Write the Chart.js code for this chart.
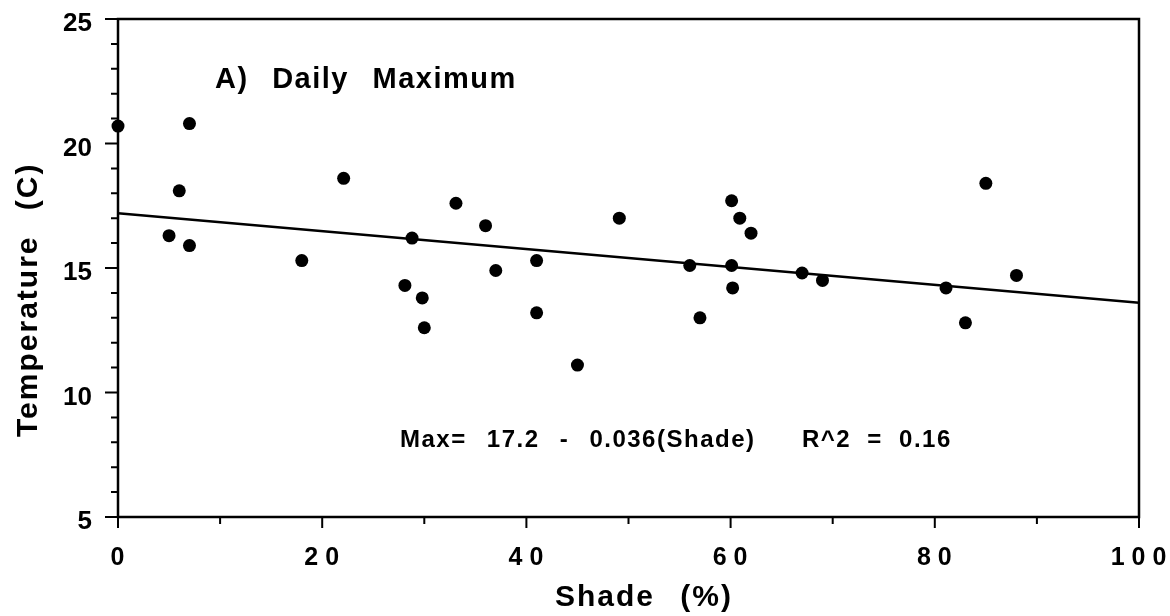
<!DOCTYPE html>
<html>
<head>
<meta charset="utf-8">
<script src="https://cdn.jsdelivr.net/npm/chart.js@4"></script>
<style>
    html, body { margin: 0; padding: 0; background: #fff; }
</style>
</head>
<body>
<canvas id="chart" width="1170" height="616"></canvas>
<script>
// Shade (%) and daily maximum temperature (C)
const shade = [0, 5, 6, 7, 7, 18, 22.1, 28.1, 28.8, 29.8, 30, 33.1, 36, 37, 41, 41, 45, 49.1, 56, 57, 60.1, 60.9, 62, 60.1, 60.2, 67, 69, 81.1, 83, 85, 88];
const maxTemp = [20.7, 16.3, 18.1, 20.8, 15.9, 15.3, 18.6, 14.3, 16.2, 13.8, 12.6, 17.6, 16.7, 14.9, 15.3, 13.2, 11.1, 17.0, 15.1, 13.0, 17.7, 17.0, 16.4, 15.1, 14.2, 14.8, 14.5, 14.2, 12.8, 18.4, 14.7];

// regression line end points: Max = 17.2 - 0.036(Shade)
const fitShade = [0, 100];
const fitTemp = [17.2, 13.6];

const xRange = [0, 100];
const yRange = [5, 25];
const xLabelEvery = 20;
const yLabelEvery = 5;

const panelLabel = 'A) Daily Maximum';
const fitLabel = 'Max= 17.2 - 0.036(Shade)';
const r2Label = 'R^2 = 0.16';
const xTitle = 'Shade (%)';
const yTitle = 'Temperature (C)';

const FONT = '"Liberation Sans", Arial, Helvetica, sans-serif';

function spacedText(ctx, text, x, y, size, ls, ws) {
    ctx.save();
    ctx.font = 'bold ' + size + 'px ' + FONT;
    ctx.letterSpacing = ls + 'px';
    ctx.wordSpacing = ws + 'px';
    ctx.textAlign = 'left';
    ctx.textBaseline = 'alphabetic';
    ctx.fillStyle = '#000';
    ctx.fillText(text, x, y);
    ctx.restore();
}

// frame, tick marks and the free text
const framePlugin = {
    id: 'frame',
    beforeDatasetsDraw(chart) {
        const ctx = chart.ctx;
        const a = chart.chartArea;
        const xs = chart.scales.x;
        const ys = chart.scales.y;
        ctx.save();
        ctx.strokeStyle = '#000';
        ctx.lineWidth = 2.5;
        ctx.strokeRect(a.left, a.top, a.right - a.left, a.bottom - a.top);

        ctx.lineWidth = 2;
        ctx.beginPath();
        ys.ticks.forEach(t => {
            const py = ys.getPixelForValue(t.value);
            const len = t.value % yLabelEvery === 0 ? 13 : 7;
            ctx.moveTo(a.left - len, py);
            ctx.lineTo(a.left, py);
        });
        xs.ticks.forEach(t => {
            const px = xs.getPixelForValue(t.value);
            const len = t.value % xLabelEvery === 0 ? 11 : 7;
            ctx.moveTo(px, a.bottom);
            ctx.lineTo(px, a.bottom + len);
        });
        ctx.stroke();
        ctx.restore();
    },
    afterDraw(chart) {
        const ctx = chart.ctx;
        spacedText(ctx, panelLabel, 215, 88, 29, 1.5, 14);
        spacedText(ctx, fitLabel, 400, 447, 24, 1.5, 12);
        spacedText(ctx, r2Label, 802, 447, 24, 1.5, 8);
        spacedText(ctx, xTitle, 555, 606, 30, 2, 15);

        ctx.save();
        ctx.translate(29, 437);
        ctx.rotate(-Math.PI / 2);
        ctx.font = 'bold 30px ' + FONT;
        ctx.letterSpacing = '2px';
        ctx.wordSpacing = '15px';
        ctx.textAlign = 'left';
        ctx.textBaseline = 'middle';
        ctx.fillStyle = '#000';
        ctx.fillText(yTitle, 0, 0);
        ctx.restore();
    }
};

// x tick labels are spread out ("2 0") in the original
const spacedXLabels = {
    id: 'spacedXLabels',
    afterLayout(chart) {
        const xs = chart.scales.x;
        if (xs._spaced) return;
        const orig = xs.drawLabels;
        xs.drawLabels = function(area) {
            this.ctx.save();
            this.ctx.letterSpacing = '7px';
            orig.call(this, area);
            this.ctx.restore();
        };
        xs._spaced = true;
    }
};

const ctx = document.getElementById('chart').getContext('2d');
new Chart(ctx, {
    data: {
        datasets: [{
            type: 'scatter',
            data: shade.map((s, i) => ({ x: s, y: maxTemp[i] })),
            backgroundColor: '#000',
            borderWidth: 0,
            pointRadius: 6.5,
            clip: false
        }, {
            type: 'line',
            data: fitShade.map((s, i) => ({ x: s, y: fitTemp[i] })),
            borderColor: '#000',
            borderWidth: 2.5,
            pointRadius: 0,
            fill: false,
            clip: false
        }]
    },
    options: {
        responsive: false,
        animation: false,
        layout: { padding: { top: 19, right: 31, left: 0, bottom: 0 } },
        plugins: {
            legend: { display: false },
            tooltip: { enabled: false }
        },
        scales: {
            x: {
                type: 'linear',
                min: xRange[0],
                max: xRange[1],
                grid: { display: false, drawTicks: false },
                border: { display: false },
                ticks: {
                    stepSize: 10,
                    autoSkip: false,
                    maxRotation: 0,
                    padding: 26,
                    labelOffset: 3,
                    color: '#000',
                    font: { family: FONT, size: 25, weight: 'bold' },
                    callback: v => v % xLabelEvery === 0 ? String(v) : ''
                },
                afterFit: s => {
                    s.height = 99;
                    s.paddingLeft = 0;
                    s.paddingRight = 0;
                }
            },
            y: {
                type: 'linear',
                min: yRange[0],
                max: yRange[1],
                grid: { display: false, drawTicks: false },
                border: { display: false },
                ticks: {
                    stepSize: 1,
                    autoSkip: false,
                    padding: 26,
                    labelOffset: 5,
                    color: '#000',
                    font: { family: FONT, size: 26, weight: 'bold' },
                    callback: v => v % yLabelEvery === 0 ? String(v) : ''
                },
                afterFit: s => {
                    s.width = 118;
                    s.paddingTop = 0;
                    s.paddingBottom = 0;
                }
            }
        }
    },
    plugins: [framePlugin, spacedXLabels]
});
</script>
</body>
</html>
